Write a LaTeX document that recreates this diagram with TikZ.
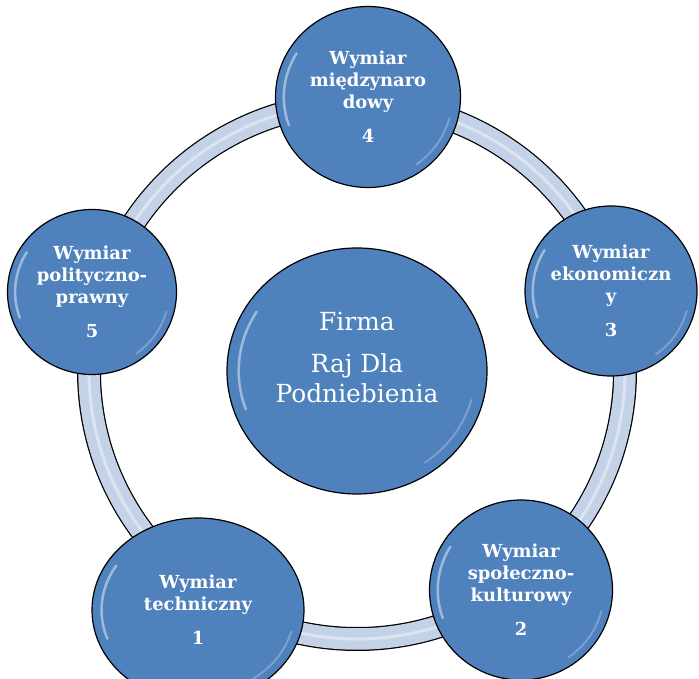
\documentclass[tikz,border=0pt]{standalone}
\usepackage{fontspec}
\setmainfont{DejaVu Serif}
\usetikzlibrary{shapes.geometric,calc}

\definecolor{dimblue}{RGB}{79,129,189}
\definecolor{ringblue}{RGB}{196,210,232}

\tikzset{
  gloss/.style={
    path picture={
      \draw[white, opacity=.45, line width=2.5bp, line cap=round]
        let \p1=(path picture bounding box.center), \p2=(path picture bounding box.north east) in
        ({\x1+0.91*(\x2-\x1)*cos(148)},{\y1+0.91*(\y2-\y1)*sin(148)})
        arc[start angle=148, end angle=200, x radius={0.91*(\x2-\x1)}, y radius={0.91*(\y2-\y1)}];
      \draw[white, opacity=.25, line width=2bp, line cap=round]
        let \p1=(path picture bounding box.center), \p2=(path picture bounding box.north east) in
        ({\x1+0.91*(\x2-\x1)*cos(-55)},{\y1+0.91*(\y2-\y1)*sin(-55)})
        arc[start angle=-55, end angle=-15, x radius={0.91*(\x2-\x1)}, y radius={0.91*(\y2-\y1)}];
    }},
  dim/.style={ellipse, draw=black, line width=1.2bp, fill=dimblue, text=white,
    align=center, inner sep=0pt, gloss,
    font=\bfseries\fontsize{18}{22}\selectfont},
  hub/.style={dim, font=\fontsize{25}{30}\selectfont}
}

\begin{document}
\begin{tikzpicture}[x=1bp, y=1bp]
  \useasboundingbox (0,0) rectangle (699,679);

  \coordinate (mid) at (357,308);
  \draw[line width=24bp] (mid) circle[radius=268];
  \draw[ringblue, line width=21.5bp] (mid) circle[radius=268];
  \draw[white, opacity=.4, line width=3bp] (mid) circle[radius=268];

  \node[hub, minimum width=260bp, minimum height=246bp] (firma) at (mid)
    {Firma\\[12bp]Raj Dla\\Podniebienia\\[-12bp]\strut};

  \node[dim, minimum width=185bp, minimum height=181bp] (d4) at (368,582)
    {Wymiar\\międzynaro\\dowy\\[12bp]4};
  \node[dim, minimum width=172bp, minimum height=170bp] (d3) at (611,388)
    {Wymiar\\ekonomiczn\\y\\[12bp]3};
  \node[dim, minimum width=183bp, minimum height=180bp] (d2) at (521,89)
    {Wymiar\\społeczno-\\kulturowy\\[12bp]2};
  \node[dim, minimum width=212bp, minimum height=184bp] (d1) at (198,69)
    {Wymiar\\techniczny\\[12bp]1};
  \node[dim, minimum width=169bp, minimum height=165bp] (d5) at (92,387)
    {Wymiar\\polityczno-\\prawny\\[12bp]5};
\end{tikzpicture}
\end{document}
